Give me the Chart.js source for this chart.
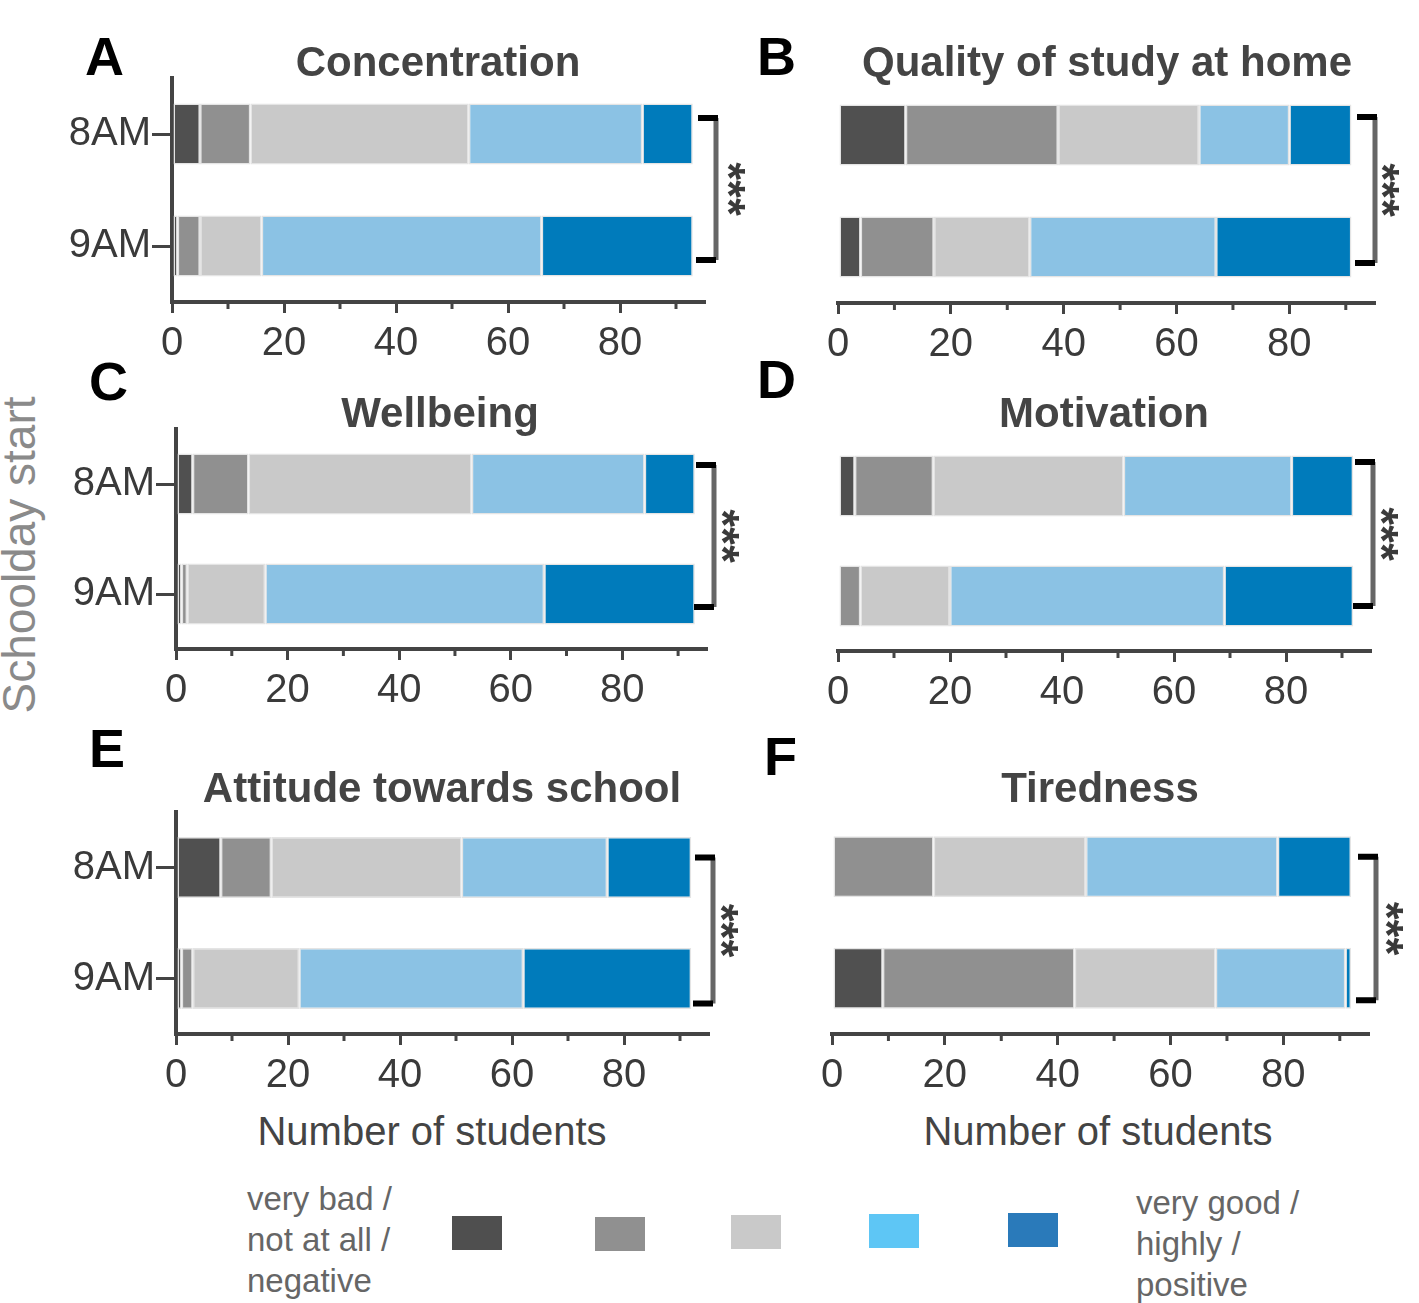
<!DOCTYPE html>
<html>
<head>
<meta charset="utf-8">
<script src="https://cdn.jsdelivr.net/npm/chart.js@4/dist/chart.umd.min.js"></script>
<style>
html,body{margin:0;padding:0;background:#fff;}
#root{position:relative;width:1419px;height:1303px;overflow:hidden;font-family:"Liberation Sans",Arial,Helvetica,sans-serif;}
.abs{position:absolute;white-space:nowrap;line-height:1;}
canvas{position:absolute;}
</style>
</head>
<body>
<div id="root"></div>
<script>
// ---------------- DATA ----------------
const categories = ['8AM', '9AM'];
const responseLevels = ['very bad / not at all / negative', 'bad', 'neutral', 'good', 'very good / highly / positive'];
const xTickLabels = [0, 20, 40, 60, 80];
const xMinorTicks = [10, 30, 50, 70, 90];

const concentration8AM = [5, 9, 39, 31, 9];
const concentration9AM = [1, 4, 11, 50, 27];
const studyQuality8AM = [12, 27, 25, 16, 11];
const studyQuality9AM = [4, 13, 17, 33, 24];
const wellbeing8AM = [3, 10, 40, 31, 9];
const wellbeing9AM = [1, 1, 14, 50, 27];
const motivation8AM = [3, 14, 34, 30, 11];
const motivation9AM = [0, 4, 16, 49, 23];
const attitude8AM = [8, 9, 34, 26, 15];
const attitude9AM = [1, 2, 19, 40, 30];
const tiredness8AM = [0, 18, 27, 34, 13];
const tiredness9AM = [9, 34, 25, 23, 1];

const panelTitles = ['Concentration', 'Quality of study at home', 'Wellbeing', 'Motivation', 'Attitude towards school', 'Tiredness'];
const panelLetters = ['A', 'B', 'C', 'D', 'E', 'F'];
const significance = ['***', '***', '***', '***', '***', '***'];

// ---------------- STYLE / LAYOUT ----------------
const segmentColors = ['#505050', '#909090', '#c9c9c9', '#8bc2e4', '#007bbb'];
const legendColors = ['#4f4f4f', '#909090', '#c9c9c9', '#5ec6f5', '#2a7aba'];
const XMAX = 95;
const LW = 130, RW = 70, PT = 8, BH = 72;
const TXT = '#3a3a3a';
const FONT = '"Liberation Sans", Arial, Helvetica, sans-serif';
Chart.defaults.font.family = FONT;

const panels = [
  {rows: [concentration8AM, concentration9AM], x0: 171.8, ppu: 5.6, c1: 134, c2: 246, yAxis: true,
   br: {dx: 12, up: 16, down: 14, sx: 22}, letter: [85, 75], title: [438, 77]},
  {rows: [studyQuality8AM, studyQuality9AM], x0: 838, ppu: 5.645, c1: 134.5, c2: 246.3, yAxis: false,
   br: {dx: 1, up: 18, down: 16, sx: 17}, letter: [757, 75], title: [1107, 77]},
  {rows: [wellbeing8AM, wellbeing9AM], x0: 176, ppu: 5.58, c1: 484, c2: 594, yAxis: true,
   br: {dx: 8, up: 19, down: 13, sx: 18}, letter: [89, 400], title: [440, 428]},
  {rows: [motivation8AM, motivation9AM], x0: 838, ppu: 5.6, c1: 486.5, c2: 596.7, yAxis: false,
   br: {dx: 3, up: 24, down: 10, sx: 18}, letter: [757, 398], title: [1104, 428]},
  {rows: [attitude8AM, attitude9AM], x0: 176, ppu: 5.6, c1: 867, c2: 978, yAxis: true,
   br: {dx: 5, up: 10, down: 25, sx: 18}, letter: [89, 767], title: [442, 803]},
  {rows: [tiredness8AM, tiredness9AM], x0: 832, ppu: 5.64, c1: 867, c2: 978.5, yAxis: false,
   br: {dx: 8, up: 10, down: 22, sx: 20}, letter: [764, 775], title: [1100, 803]}
];

const root = document.getElementById('root');
function addText(txt, x, baseline, size, opts) {
  const d = document.createElement('div');
  d.className = 'abs';
  d.textContent = txt;
  d.style.fontSize = size + 'px';
  d.style.top = (baseline - 0.8465 * size) + 'px';
  d.style.color = opts.color || '#000';
  if (opts.bold) d.style.fontWeight = 'bold';
  d.style.left = x + 'px';
  if (opts.center) d.style.transform = 'translateX(-50%)';
  root.appendChild(d);
  return d;
}

const bracketPlugin = {
  id: 'bracket',
  afterDraw(chart, args, o) {
    const ctx = chart.ctx, ys = chart.scales.y, xs = chart.scales.x, a = chart.chartArea;
    ctx.save();
    // minor x ticks
    ctx.strokeStyle = '#444';
    ctx.lineWidth = 3;
    xMinorTicks.forEach(v => {
      const px = xs.getPixelForValue(v);
      ctx.beginPath(); ctx.moveTo(px, a.bottom); ctx.lineTo(px, a.bottom + 7); ctx.stroke();
    });
    // bracket
    const y1 = ys.getPixelForValue(0) - o.up, y2 = ys.getPixelForValue(1) + o.down;
    const x = a.right + o.dx;
    ctx.strokeStyle = '#666';
    ctx.lineWidth = 5;
    ctx.beginPath(); ctx.moveTo(x, y1); ctx.lineTo(x, y2); ctx.stroke();
    ctx.fillStyle = '#000';
    ctx.fillRect(x - 18, y1 - 3, 20, 6);
    ctx.fillRect(x - 20, y2 - 3, 20, 6);
    ctx.translate(x + o.sx, (y1 + y2) / 2);
    ctx.rotate(Math.PI / 2);
    ctx.font = 'bold 46px ' + FONT;
    ctx.textAlign = 'center';
    ctx.textBaseline = 'middle';
    ctx.fillStyle = '#3a3a3a';
    ctx.fillText(o.text, 0, 12);
    ctx.restore();
  }
};

panels.forEach((p, idx) => {
  const band = p.c2 - p.c1;
  const top = p.c1 - band / 2, bottom = p.c2 + band / 2;
  const w = Math.round(LW + XMAX * p.ppu + RW);
  const h = Math.round(PT + (bottom - top) + BH);
  const cv = document.createElement('canvas');
  cv.width = w; cv.height = h;
  cv.style.width = w + 'px'; cv.style.height = h + 'px';
  cv.style.left = (p.x0 - LW) + 'px';
  cv.style.top = (top - PT) + 'px';
  root.appendChild(cv);

  const datasets = responseLevels.map((lv, i) => ({
    label: lv,
    data: [p.rows[0][i], p.rows[1][i]],
    backgroundColor: segmentColors[i],
    borderColor: '#e4e4e4',
    borderWidth: 1.5,
    borderSkipped: false,
    categoryPercentage: 1,
    barPercentage: 61 / band
  }));

  new Chart(cv, {
    type: 'bar',
    data: {labels: categories, datasets},
    options: {
      indexAxis: 'y',
      responsive: false,
      animation: false,
      devicePixelRatio: 1,
      layout: {padding: {left: 0, right: RW, top: PT, bottom: 0}},
      plugins: {
        legend: {display: false},
        tooltip: {enabled: false},
        bracket: {dx: p.br.dx, up: p.br.up, down: p.br.down, sx: p.br.sx, text: significance[idx]}
      },
      scales: {
        x: {
          type: 'linear', stacked: true, min: 0, max: XMAX,
          afterBuildTicks: s => { s.ticks = xTickLabels.map(v => ({value: v})); },
          afterFit: s => { s.height = BH; s.paddingLeft = 0; s.paddingRight = 0; },
          ticks: {color: TXT, font: {size: 40}, padding: 7, maxRotation: 0, autoSkip: false,
                  callback: v => String(v)},
          grid: {display: true, drawOnChartArea: false, drawTicks: true, tickLength: 11, color: '#444', lineWidth: 3},
          border: {display: true, color: '#444', width: 4}
        },
        y: {
          stacked: true,
          afterFit: s => { s.width = LW; s.paddingTop = 0; s.paddingBottom = 0; },
          ticks: {display: p.yAxis, color: TXT, font: {size: 40}, padding: 1},
          grid: {display: p.yAxis, offset: false, drawOnChartArea: false, drawTicks: true, tickLength: 20, color: '#444', lineWidth: 3},
          border: {display: p.yAxis, color: '#444', width: 4}
        }
      }
    },
    plugins: [bracketPlugin]
  });

  addText(panelLetters[idx], p.letter[0], p.letter[1], 54, {bold: true, color: '#000'});
  addText(panelTitles[idx], p.title[0], p.title[1], 42, {bold: true, color: '#444', center: true});
});

// x-axis titles
addText('Number of students', 432, 1145, 40, {color: '#444', center: true});
addText('Number of students', 1098, 1145, 40, {color: '#444', center: true});

// y-axis title
const yt = document.createElement('div');
yt.className = 'abs';
yt.textContent = 'Schoolday start';
yt.style.fontSize = '46px';
yt.style.color = '#8a8a8a';
yt.style.left = '19px';
yt.style.top = '555px';
yt.style.transform = 'translate(-50%,-50%) rotate(-90deg)';
root.appendChild(yt);

// legend
const legendLeftLines = ['very bad /', 'not at all /', 'negative'];
const legendRightLines = ['very good /', 'highly /', 'positive'];
legendLeftLines.forEach((t, i) => addText(t, 247, 1210 + i * 41, 33, {color: '#666'}));
legendRightLines.forEach((t, i) => addText(t, 1136, 1214 + i * 41, 33, {color: '#666'}));
const swatchX = [452, 595, 731, 869, 1008];
const swatchY = [1216, 1217, 1215, 1214, 1213];
legendColors.forEach((c, i) => {
  const s = document.createElement('div');
  s.style.position = 'absolute';
  s.style.left = swatchX[i] + 'px';
  s.style.top = swatchY[i] + 'px';
  s.style.width = '50px';
  s.style.height = '34px';
  s.style.background = c;
  s.title = responseLevels[i];
  root.appendChild(s);
});
</script>
</body>
</html>
